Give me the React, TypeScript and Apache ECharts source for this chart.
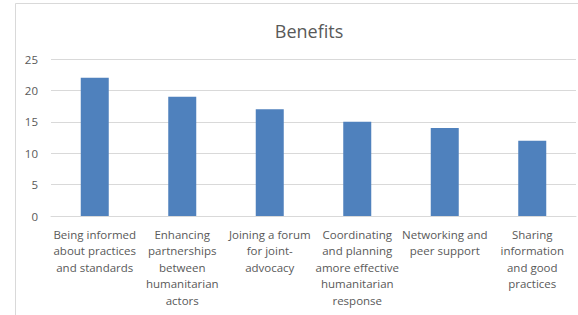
import React, { useEffect, useRef } from "react";
import * as echarts from "echarts";

const categories = [
  "Being informed\nabout practices\nand standards",
  "Enhancing\npartnerships\nbetween\nhumanitarian\nactors",
  "Joining a forum\nfor joint-\nadvocacy",
  "Coordinating\nand planning\namore effective\nhumanitarian\nresponse",
  "Networking and\npeer support",
  "Sharing\ninformation\nand good\npractices",
];
const values = [22, 19, 17, 15, 14, 12];
const titleText = "Benefits";

export default function App() {
  const ref = useRef<HTMLDivElement>(null);
  useEffect(() => {
    document.body.style.margin = "0";
    const chart = echarts.init(ref.current!, null, { renderer: "svg" });
    const font = "'Open Sans', sans-serif";
    chart.setOption({
      animation: false,
      backgroundColor: "#ffffff",
      title: {
        text: titleText,
        left: 304,
        textAlign: "center",
        top: 17,
        textStyle: { fontFamily: font, fontSize: 18, fontWeight: "normal", color: "#595959" },
      },
      graphic: [
        {
          type: "rect",
          shape: { x: 15.5, y: 3.5, width: 700, height: 500 },
          style: { fill: "none", stroke: "#d9d9d9", lineWidth: 1 },
          silent: true,
        },
      ],
      grid: { left: 51, right: 2, top: 59, bottom: 99, containLabel: false },
      xAxis: {
        type: "category",
        data: categories,
        axisLine: { lineStyle: { color: "#d9d9d9" } },
        axisTick: { show: false },
        axisLabel: {
          interval: 0,
          color: "#595959",
          fontFamily: font,
          fontSize: 11.5,
          lineHeight: 16.5,
          margin: 10,
        },
      },
      yAxis: {
        type: "value",
        min: 0,
        max: 25,
        interval: 5,
        axisLine: { show: false },
        axisTick: { show: false },
        splitLine: { lineStyle: { color: "#d9d9d9" } },
        axisLabel: { color: "#595959", fontFamily: font, fontSize: 11.5, margin: 13 },
      },
      series: [
        {
          type: "bar",
          data: values,
          barWidth: 28,
          itemStyle: { color: "#4f81bd" },
        },
      ],
    });
    return () => chart.dispose();
  }, []);
  return <div ref={ref} style={{ width: 578, height: 315 }} />;
}
